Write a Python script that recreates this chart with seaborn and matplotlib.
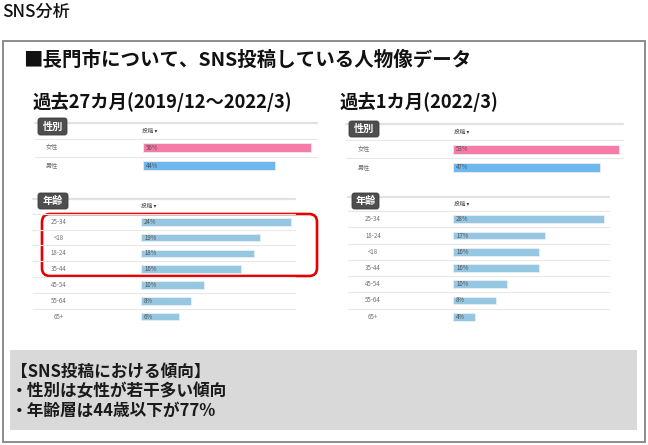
import matplotlib
matplotlib.use("Agg")
import matplotlib.pyplot as plt
import matplotlib.transforms as mtransforms
from matplotlib.patches import Rectangle, FancyBboxPatch
import seaborn as sns
import pandas as pd

# ---------------- data ----------------
gender_labels = ["女性", "男性"]
gender_27m = [56, 44]
gender_1m = [53, 47]
age_labels_27m = ["25-34", "<18", "18-24", "35-44", "45-54", "55-64", "65+"]
age_27m = [24, 19, 18, 16, 10, 8, 6]
age_labels_1m = ["25-34", "18-24", "<18", "35-44", "45-54", "55-64", "65+"]
age_1m = [28, 17, 16, 16, 10, 8, 4]

page_title = "SNS分析"
main_title = "■長門市について、SNS投稿している人物像データ"
sub_left = "過去27カ月(2019/12～2022/3)"
sub_right = "過去1カ月(2022/3)"
summary = ["【SNS投稿における傾向】", "・性別は女性が若干多い傾向", "・年齢層は44歳以下が77%"]

# ---------------- setup ----------------
W, H = 648, 445
sns.set_theme(style="white")
plt.rcParams['font.family'] = ['Noto Sans CJK JP', 'DejaVu Sans']

fig = plt.figure(figsize=(W / 100, H / 100), dpi=100)
fig.patch.set_facecolor("white")
deco = fig.add_axes([0, 0, 1, 1])
deco.set_xlim(0, W)
deco.set_ylim(H, 0)
deco.axis("off")

PINK = "#f77ba7"
BLUE = "#6db9ef"
AGE = "#96c7e2"


def px_axes(x0, y0, x1, y1):
    ax = fig.add_axes([x0 / W, 1 - y1 / H, (x1 - x0) / W, (y1 - y0) / H])
    ax.patch.set_alpha(0)
    return ax


def panel(labels, values, colors, edge, box, xmax, label_x, label_ha,
          line_x, bar_w, header_x, header_y, top_y, badge, badge_text):
    x0, y0, x1, y1 = box
    ax = px_axes(x0, y0, x1, y1)
    df = pd.DataFrame({"label": labels, "value": values})
    sns.barplot(data=df, x="value", y="label", hue="label", palette=colors,
                legend=False, width=bar_w, ax=ax, saturation=1,
                edgecolor=edge, linewidth=0.7)
    ax.set_xlim(0, xmax)
    ax.set_ylim(len(labels) - 0.5, -0.5)
    ax.axis("off")
    trans = mtransforms.blended_transform_factory(deco.transData, ax.transData)
    for i, (lab, v) in enumerate(zip(labels, values)):
        ax.plot(line_x, [i - 0.5, i - 0.5], color="#e8e8e8", lw=0.8,
                transform=trans, clip_on=False)
        ax.text(label_x, i, lab, transform=trans, ha=label_ha, va="center",
                fontsize=4.4, color="#707070")
        ax.annotate(f"{v}%", xy=(0, i), xytext=(2.2, 0),
                    textcoords="offset points", ha="left", va="center",
                    fontsize=4.4, color="#505050")
    # header line and header text
    deco.plot(line_x, [top_y, top_y], color="#e2e2e2", lw=1.6)
    deco.text(header_x, header_y, "投稿 ▾", fontsize=4.1, color="#444444",
              ha="left", va="center")
    bx0, by0, bx1, by1 = badge
    deco.add_patch(FancyBboxPatch((bx0, by0), bx1 - bx0, by1 - by0,
                                  boxstyle="round,pad=0,rounding_size=2.5",
                                  facecolor="#4e4e4e", edgecolor="#3a3a3a",
                                  lw=0.6, zorder=3))
    deco.text((bx0 + bx1) / 2, (by0 + by1) / 2 + 0.3, badge_text,
              fontsize=7.3, fontweight="bold", color="white",
              ha="center", va="center", zorder=4)
    return ax


# outer frame
deco.add_patch(Rectangle((3, 41), 642, 401, facecolor="white",
                         edgecolor="#8c8c8c", lw=1.4, zorder=0))
# summary box
deco.add_patch(Rectangle((10, 350), 627, 80, facecolor="#d9d9d9",
                         edgecolor="none", zorder=1))

# texts
deco.text(2, 11.5, page_title, fontsize=12.3, fontweight="medium",
          ha="left", va="center", color="#111111")
deco.text(23, 60, main_title, fontsize=14.0, fontweight="bold",
          ha="left", va="center", color="#111111")
deco.text(33, 102.5, sub_left, fontsize=13.2, fontweight="bold",
          ha="left", va="center", color="#111111")
deco.text(340, 102, sub_right, fontsize=13.2, fontweight="bold",
          ha="left", va="center", color="#111111")
for k, line in enumerate(summary):
    deco.text(11, 372 + 19.5 * k, line, fontsize=12, fontweight="bold",
              ha="left", va="center", color="#1a1a1a", zorder=2)

# left panels (27 months)
panel(gender_labels, gender_27m, [PINK, BLUE], "#e9e9e9",
      (143, 138.7, 317, 174.7), 58.0, 46, "left", [35, 317], 0.52,
      142, 131.7, 123.3, (38, 118, 67, 135), "性別")
panel(age_labels_27m, age_27m, [AGE] * 7, "#e6eef3",
      (141, 213.8, 295, 324.6), 24.6, 58.5, "center", [33, 295], 0.48,
      141, 206.7, 199, (38, 193, 68, 209), "年齢")
# right panels (1 month)
panel(gender_labels, gender_1m, [PINK, BLUE], "#e9e9e9",
      (453, 140.3, 623, 176.3), 54.3, 358, "left", [346, 623], 0.52,
      454, 132.7, 124, (349, 121, 379, 137), "性別")
panel(age_labels_1m, age_1m, [AGE] * 7, "#e6eef3",
      (453, 211.2, 609, 324.8), 28.9, 373, "center", [348, 609], 0.48,
      454, 204, 196.7, (352, 193, 379, 209), "年齢")

# red highlight box
deco.add_patch(FancyBboxPatch((42, 214), 275, 62,
                              boxstyle="round,pad=0,rounding_size=8",
                              facecolor="none", edgecolor="#e60000",
                              lw=1.9, zorder=5))

fig.savefig("out.png", dpi=100)
